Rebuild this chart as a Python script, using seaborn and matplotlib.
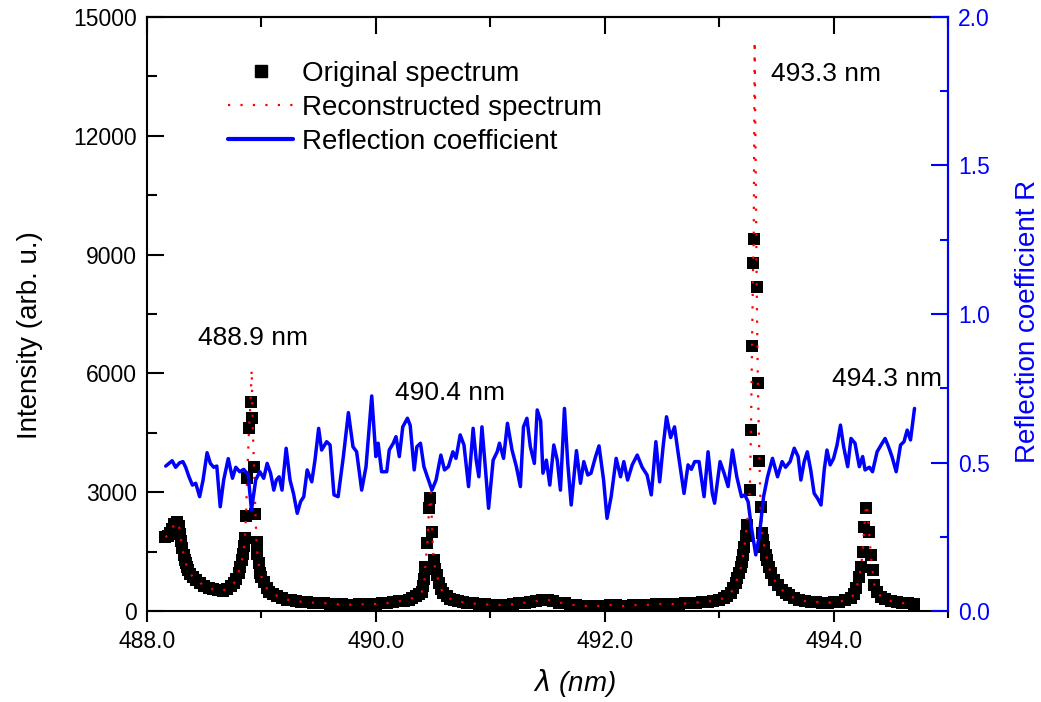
import numpy as np
import pandas as pd
import matplotlib
matplotlib.use("Agg")
import matplotlib.pyplot as plt
from matplotlib.lines import Line2D
from matplotlib.ticker import MultipleLocator, FormatStrFormatter
import seaborn as sns

# Measured emission spectrum (nm, arb. u.); None marks the saturated line centres
wavelength = [
    488.16, 488.18, 488.20, 488.22, 488.24, 488.26, 488.28, 488.29, 488.30, 488.31,
    488.32, 488.33, 488.34, 488.35, 488.36, 488.38, 488.40, 488.43, 488.46, 488.50,
    488.54, 488.58, 488.62, 488.66, 488.70, 488.73, 488.76, 488.78, 488.80, 488.815,
    488.83, 488.84, 488.848, 488.855, 488.865, 488.875, 488.892, 488.905, 488.915, 488.922,
    488.935, 488.948, 488.957, 488.965, 488.975, 488.99, 489.00, 489.02, 489.045, 489.07,
    489.10, 489.14, 489.18, 489.22, 489.26, 489.30, 489.35, 489.40, 489.45, 489.50,
    489.55, 489.60, 489.65, 489.70, 489.75, 489.80, 489.85, 489.90, 489.95, 490.00,
    490.05, 490.10, 490.15, 490.20, 490.25, 490.29, 490.32, 490.35, 490.38, 490.40,
    490.415, 490.425, 490.432, 490.45, 490.465, 490.475, 490.482, 490.492, 490.505, 490.52,
    490.535, 490.55, 490.57, 490.59, 490.62, 490.65, 490.68, 490.72, 490.76, 490.80,
    490.85, 490.90, 490.95, 491.00, 491.05, 491.10, 491.15, 491.20, 491.25, 491.30,
    491.35, 491.40, 491.45, 491.50, 491.55, 491.60, 491.65, 491.70, 491.75, 491.80,
    491.85, 491.90, 491.95, 492.00, 492.05, 492.10, 492.15, 492.20, 492.25, 492.30,
    492.35, 492.40, 492.45, 492.50, 492.55, 492.60, 492.65, 492.70, 492.75, 492.80,
    492.85, 492.90, 492.95, 493.00, 493.04, 493.07, 493.10, 493.125, 493.145, 493.16,
    493.175, 493.19, 493.20, 493.21, 493.22, 493.232, 493.242, 493.268, 493.278, 493.287,
    493.297, 493.302, 493.310, 493.328, 493.338, 493.352, 493.362, 493.375, 493.385, 493.395,
    493.41, 493.42, 493.435, 493.45, 493.48, 493.51, 493.55, 493.58, 493.61, 493.65,
    493.70, 493.75, 493.80, 493.85, 493.90, 493.95, 494.00, 494.05, 494.10, 494.15,
    494.18, 494.20, 494.225, 494.24, 494.254, 494.268, 494.282, 494.292, 494.31, 494.325,
    494.34, 494.356, 494.38, 494.415, 494.45, 494.50, 494.55, 494.60, 494.65, 494.70,
]
original = [
    1870, 1900, 1960, 2080, 2200, 2250, 2150, 1950, 1760, 1580,
    1420, 1300, 1200, 1110, 1040, 940, 860, 780, 720, 640,
    580, 545, 520, 515, 560, 620, 700, 800, 960, 1120,
    1290, 1450, 1640, 1840, 2390, 3350, 4610, 5290, None, 4870,
    3640, 2440, 1750, 1450, 1200, 960, 870, 730, 580, 490,
    430, 380, 330, 290, 270, 250, 235, 220, 210, 205,
    200, 185, 170, 165, 160, 160, 165, 170, 175, 180,
    190, 200, 220, 245, 265, 290, 330, 370, 420, 470,
    620, 800, 1120, 1710, 2590, 2850, None, 2000, 1290, 1050,
    900, 700, 560, 450, 370, 310, 280, 250, 220, 205,
    190, 176, 165, 160, 155, 152, 160, 170, 190, 210,
    230, 250, 270, 280, 255, 215, 190, 160, 150, 135,
    126, 125, 126, 135, 150, 140, 126, 135, 150, 150,
    152, 160, 175, 180, 178, 177, 177, 190, 205, 215,
    225, 240, 260, 280, 330, 390, 450, 570, 715, 830,
    950, 1100, 1245, 1420, 1620, 1900, 2170, 3050, 4560, 6680,
    8800, 9400, None, 8170, 5770, 3780, 2620, 1970, 1800, 1620,
    1420, 1290, 1120, 950, 790, 660, 530, 460, 400, 340,
    290, 250, 240, 230, 215, 210, 220, 235, 270, 320,
    430, 570, 870, 1120, 1500, 2130, 2590, None, 2000, 1410,
    1035, 660, 480, 360, 300, 250, 225, 200, 190, 177,
]
# Reconstructed line-centre intensities (488.9, 490.4, 493.3, 494.3 nm lines)
apex_intensity = [6100, 3000, 14400, 2700]

# Reflection coefficient R(lambda)
refl_wavelength = [
    488.164, 488.22, 488.25, 488.285, 488.314, 488.338, 488.367, 488.397, 488.426, 488.46,
    488.49, 488.525, 488.554, 488.583, 488.61, 488.64, 488.67, 488.71, 488.747, 488.776,
    488.81, 488.846, 488.884, 488.913, 488.95, 488.986, 489.02, 489.05, 489.08, 489.108,
    489.13, 489.155, 489.18, 489.216, 489.25, 489.28, 489.313, 489.342, 489.37, 489.40,
    489.44, 489.468, 489.50, 489.526, 489.57, 489.60, 489.634, 489.67, 489.716, 489.76,
    489.80, 489.832, 489.876, 489.914, 489.964, 490.00, 490.02, 490.05, 490.095, 490.117,
    490.152, 490.176, 490.205, 490.235, 490.276, 490.30, 490.335, 490.358, 490.39, 490.42,
    490.46, 490.49, 490.526, 490.568, 490.60, 490.634, 490.673, 490.70, 490.737, 490.77,
    490.81, 490.85, 490.877, 490.90, 490.927, 490.956, 490.985, 491.025, 491.06, 491.08,
    491.116, 491.15, 491.19, 491.228, 491.263, 491.29, 491.32, 491.35, 491.385, 491.41,
    491.44, 491.46, 491.49, 491.52, 491.555, 491.585, 491.613, 491.648, 491.677, 491.707,
    491.753, 491.788, 491.817, 491.852, 491.88, 491.92, 491.95, 491.99, 492.02, 492.056,
    492.10, 492.138, 492.167, 492.20, 492.24, 492.284, 492.327, 492.37, 492.407, 492.447,
    492.48, 492.51, 492.54, 492.576, 492.61, 492.64, 492.693, 492.728, 492.757, 492.786,
    492.824, 492.868, 492.903, 492.94, 492.96, 493.008, 493.043, 493.078, 493.116, 493.154,
    493.195, 493.224, 493.253, 493.283, 493.32, 493.35, 493.388, 493.423, 493.466, 493.51,
    493.55, 493.58, 493.62, 493.656, 493.69, 493.714, 493.743, 493.77, 493.80, 493.83,
    493.86, 493.89, 493.918, 493.942, 493.97, 494.00, 494.03, 494.06, 494.088, 494.123,
    494.152, 494.187, 494.225, 494.254, 494.275, 494.313, 494.34, 494.38, 494.415, 494.45,
    494.48, 494.51, 494.547, 494.585, 494.615, 494.643, 494.672, 494.707,
]
refl_coefficient = [
    0.488, 0.506, 0.484, 0.499, 0.503, 0.484, 0.452, 0.424, 0.430, 0.385,
    0.441, 0.533, 0.497, 0.484, 0.488, 0.351, 0.441, 0.513, 0.447, 0.484,
    0.469, 0.477, 0.458, 0.340, 0.441, 0.469, 0.447, 0.497, 0.464, 0.407,
    0.441, 0.452, 0.407, 0.548, 0.441, 0.396, 0.329, 0.368, 0.385, 0.475,
    0.435, 0.508, 0.615, 0.542, 0.570, 0.559, 0.391, 0.385, 0.520, 0.668,
    0.553, 0.536, 0.407, 0.486, 0.724, 0.520, 0.565, 0.469, 0.469, 0.542,
    0.565, 0.587, 0.520, 0.620, 0.649, 0.625, 0.475, 0.553, 0.565, 0.486,
    0.441, 0.407, 0.441, 0.525, 0.475, 0.486, 0.536, 0.514, 0.593, 0.559,
    0.419, 0.615, 0.508, 0.452, 0.620, 0.486, 0.346, 0.508, 0.536, 0.565,
    0.514, 0.632, 0.542, 0.486, 0.419, 0.620, 0.649, 0.553, 0.497, 0.677,
    0.640, 0.464, 0.508, 0.424, 0.559, 0.508, 0.407, 0.682, 0.497, 0.357,
    0.540, 0.430, 0.503, 0.458, 0.464, 0.520, 0.556, 0.441, 0.312, 0.385,
    0.514, 0.452, 0.503, 0.441, 0.492, 0.525, 0.484, 0.458, 0.391, 0.570,
    0.435, 0.553, 0.654, 0.584, 0.620, 0.536, 0.396, 0.492, 0.477, 0.503,
    0.503, 0.385, 0.536, 0.396, 0.363, 0.503, 0.464, 0.419, 0.542, 0.452,
    0.385, 0.391, 0.368, 0.278, 0.189, 0.250, 0.385, 0.452, 0.514, 0.452,
    0.503, 0.484, 0.503, 0.548, 0.520, 0.441, 0.503, 0.536, 0.475, 0.396,
    0.379, 0.357, 0.475, 0.542, 0.492, 0.514, 0.559, 0.626, 0.553, 0.486,
    0.581, 0.565, 0.486, 0.520, 0.475, 0.484, 0.469, 0.536, 0.559, 0.581,
    0.553, 0.520, 0.469, 0.559, 0.570, 0.609, 0.576, 0.682,
]

peak_labels = ["488.9 nm", "490.4 nm", "493.3 nm", "494.3 nm"]
label_pos = [(488.925, 6900), (490.65, 5500), (493.935, 13550), (494.47, 5850)]

# ---- data frames -------------------------------------------------------------
spec = pd.DataFrame({"wl": wavelength,
                     "orig": pd.to_numeric(pd.Series(original, dtype="object"), errors="coerce")})
recon_vals = []
apex_iter = iter(apex_intensity)
for v in original:
    recon_vals.append(next(apex_iter) if v is None else v)
spec["recon"] = recon_vals
refl = pd.DataFrame({"wl": refl_wavelength, "R": refl_coefficient})

# ---- styling -----------------------------------------------------------------
sns.set_style("ticks")
plt.rcParams["font.family"] = ["Liberation Sans", "DejaVu Sans"]
plt.rcParams.update({
    "axes.linewidth": 1.5,
    "axes.edgecolor": "black",
    "axes.labelcolor": "black",
    "text.color": "black",
    "xtick.color": "black",
    "ytick.color": "black",
})

fig = plt.figure(figsize=(10.41, 7.02), dpi=100)
ax = fig.add_axes([0.1412, 0.1296, 0.7695, 0.8462])
ax2 = ax.twinx()

sns.scatterplot(data=spec, x="wl", y="orig", marker="s", s=82, color="black",
                edgecolor="black", linewidth=0, ax=ax, zorder=2)
sns.lineplot(data=spec, x="wl", y="recon", sort=False, estimator=None, color="red",
             linewidth=1.6, ax=ax, zorder=3)
ax.lines[-1].set_linestyle((0, (1, 4.6)))
sns.lineplot(data=refl, x="wl", y="R", sort=False, estimator=None, color="#0000ff",
             linewidth=2.5, ax=ax2, zorder=3)
ax2.lines[-1].set_solid_joinstyle("round")

# ---- axes --------------------------------------------------------------------
ax.set_xlim(488.0, 495.0)
ax.set_ylim(0, 15000)
ax2.set_ylim(0, 2.0)

ax.xaxis.set_major_locator(MultipleLocator(2.0))
ax.xaxis.set_minor_locator(MultipleLocator(1.0))
ax.xaxis.set_major_formatter(FormatStrFormatter("%.1f"))
ax.yaxis.set_major_locator(MultipleLocator(3000))
ax.yaxis.set_minor_locator(MultipleLocator(1500))
ax2.yaxis.set_major_locator(MultipleLocator(0.5))
ax2.yaxis.set_minor_locator(MultipleLocator(0.25))
ax2.yaxis.set_major_formatter(FormatStrFormatter("%.1f"))

tick_fs = 16.5
ax.tick_params(axis="x", which="both", direction="out", top=False, labelsize=tick_fs,
               width=1.5, pad=6)
ax.tick_params(axis="x", which="major", length=8)
ax.tick_params(axis="x", which="minor", length=5)
ax.tick_params(axis="y", which="both", direction="in", labelsize=tick_fs, width=1.5, pad=7)
ax.tick_params(axis="y", which="major", length=12)
ax.tick_params(axis="y", which="minor", length=7)

# inward ticks along the top edge
secx = ax.secondary_xaxis("top")
secx.xaxis.set_major_locator(MultipleLocator(2.0))
secx.xaxis.set_minor_locator(MultipleLocator(1.0))
secx.tick_params(axis="x", which="both", direction="in", labeltop=False, width=1.5,
                 color="black")
secx.tick_params(axis="x", which="major", length=12)
secx.tick_params(axis="x", which="minor", length=7)
secx.spines["top"].set_linewidth(1.5)
secx.spines["top"].set_color("black")

blue = "#0000ff"
ax2.tick_params(axis="y", which="both", direction="in", colors=blue, labelsize=tick_fs,
                width=1.5, pad=7)
ax2.tick_params(axis="y", which="major", length=12)
ax2.tick_params(axis="y", which="minor", length=6)
ax2.spines["right"].set_color(blue)
ax2.spines["right"].set_linewidth(1.5)
for side in ("left", "top", "bottom"):
    ax2.spines[side].set_visible(False)

ax.set_xlabel(r"$\lambda$ (nm)", fontsize=20, fontstyle="italic")
ax.xaxis.label.set_va("center")
ax.xaxis.set_label_coords(0.534, -0.121)
ax.set_ylabel("Intensity (arb. u.)", fontsize=20)
ax.yaxis.label.set_va("center")
ax.yaxis.set_label_coords(-0.146, 0.465)
ax2.set_ylabel("Reflection coefficient R", fontsize=20, color=blue)
ax2.yaxis.label.set_va("center")
ax2.yaxis.set_label_coords(1.1, 0.487)

for text, (xp, yp) in zip(peak_labels, label_pos):
    ax.text(xp, yp, text, fontsize=19, ha="center", va="center", zorder=5)

handles = [
    Line2D([], [], marker="s", linestyle="none", color="black", markersize=8.5),
    Line2D([], [], color="red", linewidth=1.6, linestyle=(0, (1, 4.6))),
    Line2D([], [], color=blue, linewidth=3),
]
labels = ["Original spectrum", "Reconstructed spectrum", "Reflection coefficient"]
ax2.legend(handles, labels, loc="upper left", bbox_to_anchor=(0.101, 0.926),
           frameon=False, fontsize=20, handlelength=2.35, handletextpad=0.3,
           labelspacing=0.28, borderpad=0, borderaxespad=0)

fig.savefig("out.png", dpi=100)
